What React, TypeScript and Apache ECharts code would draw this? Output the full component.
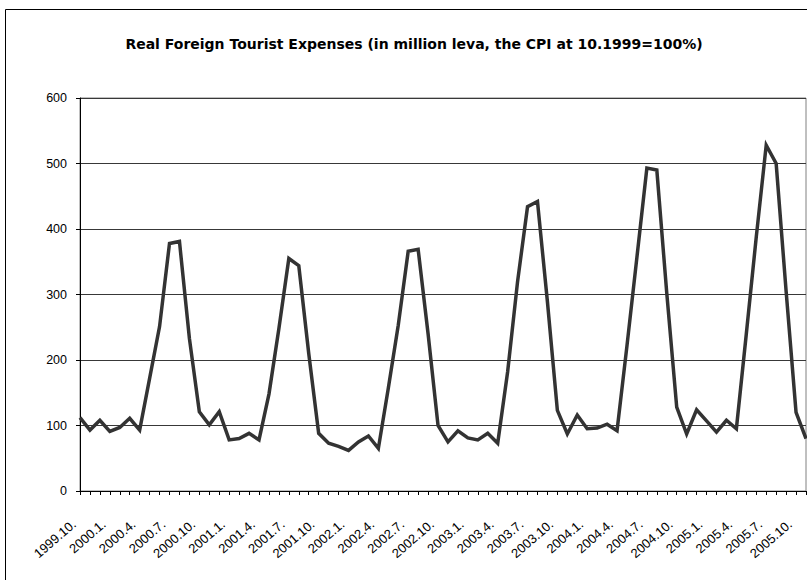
import React, { useEffect, useRef } from "react";
import * as echarts from "echarts";

const TITLE = "Real Foreign Tourist Expenses (in million leva, the CPI at 10.1999=100%)";

const months: string[] = [
  "1999.10.", "1999.11.", "1999.12.",
  "2000.1.", "2000.2.", "2000.3.", "2000.4.", "2000.5.", "2000.6.", "2000.7.", "2000.8.", "2000.9.", "2000.10.", "2000.11.", "2000.12.",
  "2001.1.", "2001.2.", "2001.3.", "2001.4.", "2001.5.", "2001.6.", "2001.7.", "2001.8.", "2001.9.", "2001.10.", "2001.11.", "2001.12.",
  "2002.1.", "2002.2.", "2002.3.", "2002.4.", "2002.5.", "2002.6.", "2002.7.", "2002.8.", "2002.9.", "2002.10.", "2002.11.", "2002.12.",
  "2003.1.", "2003.2.", "2003.3.", "2003.4.", "2003.5.", "2003.6.", "2003.7.", "2003.8.", "2003.9.", "2003.10.", "2003.11.", "2003.12.",
  "2004.1.", "2004.2.", "2004.3.", "2004.4.", "2004.5.", "2004.6.", "2004.7.", "2004.8.", "2004.9.", "2004.10.", "2004.11.", "2004.12.",
  "2005.1.", "2005.2.", "2005.3.", "2005.4.", "2005.5.", "2005.6.", "2005.7.", "2005.8.", "2005.9.", "2005.10.", "2005.11.",
];

const expenses: number[] = [
  112, 93, 108,
  91, 97, 111, 93, 172, 251, 378, 381, 233, 121, 101, 121,
  78, 80, 88, 78, 148, 248, 355, 344, 210, 88, 73, 68,
  62, 75, 84, 65, 157, 253, 366, 369, 240, 100, 75, 92,
  81, 78, 88, 73, 182, 320, 434, 442, 289, 123, 87, 116,
  95, 96, 102, 92, 222, 357, 493, 490, 302, 128, 87, 124,
  107, 90, 108, 95, 240, 388, 528, 500, 305, 120, 80,
];

const yTicks: number[] = [0, 100, 200, 300, 400, 500, 600];

export default function App() {
  const ref = useRef<HTMLDivElement>(null);
  useEffect(() => {
    if (!ref.current) return;
    const chart = echarts.init(ref.current, null, { renderer: "svg" });
    const font = "'Liberation Sans', Arial, sans-serif";
    chart.setOption({
      animation: false,
      backgroundColor: "#ffffff",
      title: {
        text: TITLE,
        left: 409,
        top: 32,
        textAlign: "center",
        textStyle: { fontFamily: "'DejaVu Sans', sans-serif", fontSize: 14, fontWeight: "bold", color: "#000" },
      },
      graphic: [
        {
          type: "rect",
          shape: { x: 5.5, y: 9.5, width: 900, height: 700 },
          style: { fill: "none", stroke: "#000", lineWidth: 1 },
          silent: true,
          z: -1,
        },
      ],
      grid: {
        left: 80,
        right: 1,
        top: 98,
        bottom: 89,
        show: true,
        borderColor: "#808080",
        borderWidth: 1,
        backgroundColor: "transparent",
      },
      xAxis: {
        type: "category",
        data: months,
        boundaryGap: false,
        axisLine: { show: true, lineStyle: { color: "#000", width: 1 } },
        axisTick: { show: true, interval: 0, length: 4, lineStyle: { color: "#000" } },
        axisLabel: {
          interval: 2,
          rotate: 41,
          margin: 26,
          padding: [0, 8, 0, 0],
          fontFamily: font,
          fontSize: 13,
          color: "#000",
        },
        splitLine: { show: false },
      },
      yAxis: {
        type: "value",
        min: yTicks[0],
        max: yTicks[yTicks.length - 1],
        interval: 100,
        axisLine: { show: true, lineStyle: { color: "#000", width: 1 } },
        axisTick: { show: true, length: 4, lineStyle: { color: "#000" } },
        axisLabel: { margin: 13, fontFamily: font, fontSize: 12.5, color: "#000" },
        splitLine: { show: true, lineStyle: { color: "#383838", width: 1 } },
      },
      series: [
        {
          type: "line",
          data: expenses,
          symbol: "none",
          lineStyle: { color: "#333333", width: 3.5, join: "miter" },
          z: 3,
        },
      ],
    });
    return () => chart.dispose();
  }, []);
  return (
    <div
      ref={ref}
      style={{ position: "fixed", left: 0, top: 0, width: 807, height: 580, background: "#fff" }}
    />
  );
}
